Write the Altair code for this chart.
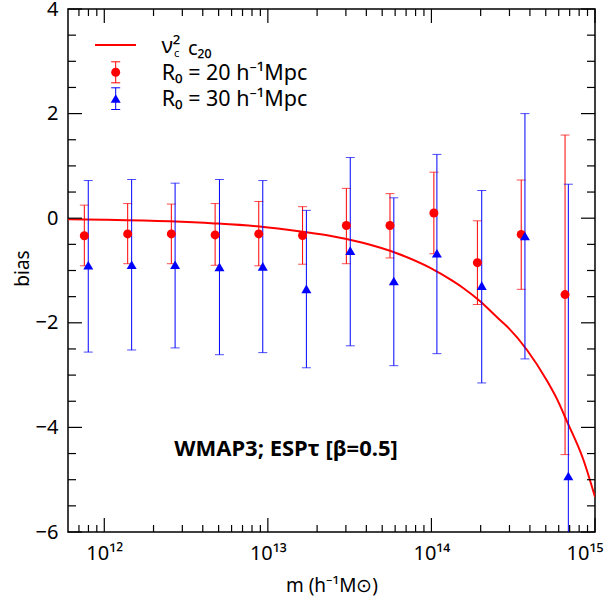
import altair as alt
import pandas as pd

# ---------------- data ----------------
red_m = [7.55e11, 1.39e12, 2.57e12, 4.76e12, 8.8e12, 1.63e13, 3.02e13, 5.58e13, 1.035e14, 1.91e14, 3.54e14, 6.56e14]
red_b = [-0.335, -0.30, -0.30, -0.32, -0.30, -0.33, -0.14, -0.14, 0.10, -0.85, -0.31, -1.46]
red_hi = [0.25, 0.28, 0.27, 0.28, 0.32, 0.22, 0.57, 0.47, 0.88, -0.05, 0.73, 1.59]
red_lo = [-0.91, -0.87, -0.87, -0.90, -0.91, -0.88, -0.87, -0.76, -0.68, -1.65, -1.36, -4.52]

blue_m = [7.98e11, 1.47e12, 2.71e12, 5.06e12, 9.31e12, 1.72e13, 3.19e13, 5.89e13, 1.08e14, 2.03e14, 3.73e14, 6.87e14]
blue_b = [-0.90, -0.89, -0.89, -0.93, -0.92, -1.35, -0.62, -1.20, -0.67, -1.29, -0.34, -4.93]
blue_hi = [0.72, 0.74, 0.67, 0.74, 0.72, 0.15, 1.16, 0.39, 1.22, 0.53, 2.00, 0.65]
blue_lo = [-2.56, -2.52, -2.48, -2.61, -2.57, -2.86, -2.44, -2.82, -2.59, -3.15, -2.69, -6.60]

curve_m = [6.0e11, 1.0e12, 2.5e12, 4.72e12, 8.89e12, 1.63e13, 2.39e13, 3.8e13, 6.14e13, 9.77e13, 1.333e14,
           1.556e14, 1.977e14, 2.51e14, 2.9e14, 3.84e14, 5.09e14, 5.86e14, 6.75e14, 8.45e14, 1.0e15]
curve_b = [-0.02, -0.03, -0.06, -0.10, -0.16, -0.26, -0.335, -0.47, -0.67, -0.945, -1.19,
           -1.33, -1.585, -1.89, -2.07, -2.52, -3.11, -3.46, -3.89, -4.60, -5.33]

# axis ticks / labels
x_major = [1e12, 1e13, 1e14, 1e15]
x_minor = [7e11, 8e11, 9e11,
           2e12, 3e12, 4e12, 5e12, 6e12, 7e12, 8e12, 9e12,
           2e13, 3e13, 4e13, 5e13, 6e13, 7e13, 8e13, 9e13,
           2e14, 3e14, 4e14, 5e14, 6e14, 7e14, 8e14, 9e14]
y_major = [-6, -4, -2, 0, 2, 4]
y_minor = [-5.5, -5, -4.5, -3.5, -3, -2.5, -1.5, -1, -0.5, 0.5, 1, 1.5, 2.5, 3, 3.5]

FONT = "Noto Sans"
W, H = 527, 523
RED, BLUE = "#ff0000", "#0000ff"

red = pd.DataFrame({"m": red_m, "b": red_b, "hi": red_hi, "lo": red_lo})
blue = pd.DataFrame({"m": blue_m, "b": blue_b, "hi": blue_hi, "lo": blue_lo})
curve = pd.DataFrame({"m": curve_m, "b": curve_b})
one = pd.DataFrame({"k": [0]})

xscale = alt.Scale(type="log", domain=[6e11, 1e15], nice=False)
yscale = alt.Scale(domain=[-6, 4], nice=False, zero=False)

xaxis = alt.Axis(
    values=x_major, ticks=False, domain=False, grid=False,
    labelExpr="'10' + (round(log(datum.value)/LN10) == 12 ? '¹²' : round(log(datum.value)/LN10) == 13 ? '¹³' : round(log(datum.value)/LN10) == 14 ? '¹⁴' : '¹⁵')",
    labelFont=FONT, labelFontSize=20, labelColor="black", labelPadding=11,
    labelOverlap=False, labelBound=False, labelFlush=True, labelFlushOffset=8,
    title="m (h⁻¹M⊙)", titleFont=FONT, titleFontSize=19, titleFontWeight="normal",
    titleColor="black", titleY=59, titleBaseline="alphabetic",
)
yaxis = alt.Axis(
    values=y_major, ticks=False, domain=False, grid=False,
    labelFont=FONT, labelFontSize=20, labelColor="black", labelPadding=10,
    labelOverlap=False, labelFlush=False,
    title="bias", titleFont=FONT, titleFontSize=19, titleFontWeight="normal",
    titleColor="black", titleX=-46, titleY=259, titleAngle=-90,
    titleAlign="center", titleBaseline="middle",
)

def X():
    return alt.X("m:Q", scale=xscale, axis=xaxis)

def Y(f="b"):
    return alt.Y(f"{f}:Q", scale=yscale, axis=yaxis)

# ---- curve ----
line = alt.Chart(curve).mark_line(color=RED, strokeWidth=2, clip=True, interpolate="monotone").encode(
    x=X(), y=Y("b"))

# ---- error bars ----
def errbars(df, color):
    bar = alt.Chart(df).mark_rule(color=color, strokeWidth=1, clip=True).encode(
        x=X(), y=Y("lo"), y2="hi:Q")
    cap_hi = alt.Chart(df).mark_tick(color=color, orient="horizontal", size=9, thickness=1, clip=True).encode(
        x=X(), y=Y("hi"))
    cap_lo = alt.Chart(df).mark_tick(color=color, orient="horizontal", size=9, thickness=1, clip=True).encode(
        x=X(), y=Y("lo"))
    return [bar, cap_hi, cap_lo]

red_pts = alt.Chart(red).mark_point(shape="circle", filled=True, size=81, color=RED, opacity=1, clip=True).encode(
    x=X(), y=Y("b"))
blue_pts = alt.Chart(blue).mark_point(shape="triangle-up", filled=True, size=100, color=BLUE, opacity=1, clip=True).encode(
    x=X(), y=Y("b"))

# ---- inward frame ticks ----
def yticks(vals, length):
    df = pd.DataFrame({"b": vals})
    left = alt.Chart(df).mark_rule(color="black", strokeWidth=1.2).encode(
        y=Y("b"), x=alt.value(0), x2=alt.value(length))
    right = alt.Chart(df).mark_rule(color="black", strokeWidth=1.2).encode(
        y=Y("b"), x=alt.value(W), x2=alt.value(W - length))
    return [left, right]

def xticks(vals, length):
    df = pd.DataFrame({"m": vals})
    bottom = alt.Chart(df).mark_rule(color="black", strokeWidth=1.2).encode(
        x=X(), y=alt.value(H), y2=alt.value(H - length))
    top = alt.Chart(df).mark_rule(color="black", strokeWidth=1.2).encode(
        x=X(), y=alt.value(0), y2=alt.value(length))
    return [bottom, top]

ticks = yticks(y_major, 14) + yticks(y_minor, 8) + xticks(x_major, 14) + xticks(x_minor, 7)

# ---- legend (drawn by hand) ----
def txt(s, x, y, size, weight="normal", color="black", align="left", baseline="alphabetic"):
    return alt.Chart(one).mark_text(text=s, font=FONT, fontSize=size, fontWeight=weight, color=color,
                                    align=align, baseline=baseline).encode(x=alt.value(x), y=alt.value(y))

leg = [
    alt.Chart(one).mark_rule(color=RED, strokeWidth=2).encode(x=alt.value(27), x2=alt.value(68), y=alt.value(36)),
    txt("ν²", 93.5, 44, 22),
    txt("c", 106, 47.5, 11),
    txt("c₂₀", 120, 45.5, 20),
    # red entry
    alt.Chart(one).mark_rule(color=RED, strokeWidth=1).encode(x=alt.value(47.7), y=alt.value(52.8), y2=alt.value(73.8)),
    alt.Chart(one).mark_rule(color=RED, strokeWidth=1).encode(x=alt.value(43.2), x2=alt.value(52.2), y=alt.value(52.8)),
    alt.Chart(one).mark_rule(color=RED, strokeWidth=1).encode(x=alt.value(43.2), x2=alt.value(52.2), y=alt.value(73.8)),
    alt.Chart(one).mark_point(shape="circle", filled=True, size=81, color=RED, opacity=1).encode(x=alt.value(47.7), y=alt.value(63.2)),
    txt("R₀ = 20 h⁻¹Mpc", 93.7, 70.5, 21.5),
    # blue entry
    alt.Chart(one).mark_rule(color=BLUE, strokeWidth=1).encode(x=alt.value(47.7), y=alt.value(78.8), y2=alt.value(100.5)),
    alt.Chart(one).mark_rule(color=BLUE, strokeWidth=1).encode(x=alt.value(43.2), x2=alt.value(52.2), y=alt.value(78.8)),
    alt.Chart(one).mark_rule(color=BLUE, strokeWidth=1).encode(x=alt.value(43.2), x2=alt.value(52.2), y=alt.value(100.5)),
    alt.Chart(one).mark_point(shape="triangle-up", filled=True, size=100, color=BLUE, opacity=1).encode(x=alt.value(47.7), y=alt.value(89.5)),
    txt("R₀ = 30 h⁻¹Mpc", 93.7, 96.5, 21.5),
]

annot = txt("WMAP3; ESPτ [β=0.5]", 218, 440, 22, weight="bold", align="center", baseline="middle")

layers = [line] + ticks + errbars(red, RED) + errbars(blue, BLUE) + [red_pts, blue_pts] + leg + [annot]

chart = alt.layer(*layers).properties(
    width=W, height=H,
    autosize=alt.AutoSizeParams(type="none"),
    padding={"left": 68, "top": 9, "right": 10, "bottom": 71},
    background="white",
).configure_view(stroke="black", strokeWidth=1.5)

chart.save("out.html", embed_options={"renderer": "svg", "actions": False})
